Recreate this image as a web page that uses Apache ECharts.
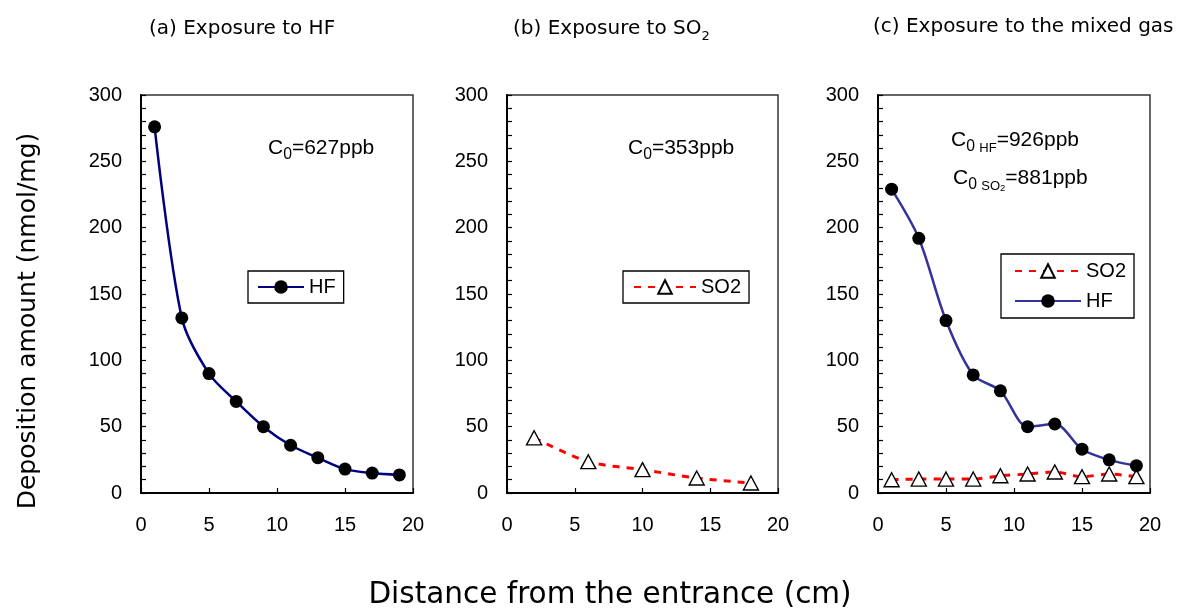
<!DOCTYPE html>
<html>
<head>
<meta charset="utf-8">
<script src="https://cdn.jsdelivr.net/npm/echarts@6/dist/echarts.min.js"></script>
<style>
html,body{margin:0;padding:0;background:#fff;}
#chart{width:1178px;height:608px;}
</style>
</head>
<body>
<div id="chart"></div>
<script>
// ---- data ----
const xA = [1, 3, 5, 7, 9, 11, 13, 15, 17, 19];
const hfA = [276, 132, 90, 69, 50, 36, 26.6, 18, 15, 13.6];
const xB = [2, 6, 10, 14, 18];
const so2B = [41.6, 23.6, 17.6, 11.3, 7.5];
const xC = [1, 3, 5, 7, 9, 11, 13, 15, 17, 19];
const hfC = [229, 192, 130, 89, 77, 50, 52, 33, 25, 20.6];
const so2C = [10, 10.5, 10.5, 10.5, 13, 14.3, 15.8, 12.3, 14.3, 12.3];
const xTicks = [0, 5, 10, 15, 20];
const yTicks = [0, 50, 100, 150, 200, 250, 300];

const chart = echarts.init(document.getElementById('chart'));
const numFont = 'Liberation Sans';
const txtFont = 'DejaVu Sans';

const grids = [
  {left: 141, top: 95, width: 272, height: 398},
  {left: 507, top: 95, width: 271, height: 398},
  {left: 878, top: 95, width: 272, height: 398}
].map(g => Object.assign(g, {show: true, borderColor: '#333', borderWidth: 1.5, backgroundColor: 'transparent'}));

function xAxisFor(i) {
  return {
    type: 'value', gridIndex: i, min: xTicks[0], max: xTicks[xTicks.length - 1], interval: xTicks[1] - xTicks[0],
    axisLine: {show: true, lineStyle: {color: '#000', width: 2}},
    axisTick: {show: true, inside: true, length: 5, lineStyle: {color: '#000', width: 1.2}},
    axisLabel: {show: true, margin: 22, color: '#000', fontFamily: numFont, fontSize: 20},
    splitLine: {show: false}
  };
}
function yAxisFor(i) {
  return {
    type: 'value', gridIndex: i, min: yTicks[0], max: yTicks[yTicks.length - 1], interval: 10,
    axisLine: {show: true, lineStyle: {color: '#000', width: 2}},
    axisTick: {show: true, inside: true, length: 5, lineStyle: {color: '#000', width: 1.2}},
    axisLabel: {
      show: true, margin: 19, color: '#000', fontFamily: numFont, fontSize: 20,
      formatter: v => (yTicks.indexOf(v) >= 0 ? String(v) : '')
    },
    splitLine: {show: false}
  };
}
const pairs = (xs, ys) => xs.map((x, k) => [x, ys[k]]);

const hfStyle = (color) => ({
  type: 'line', smooth: 0.3, symbol: 'circle', symbolSize: 13,
  itemStyle: {color: '#000', borderWidth: 0},
  lineStyle: {color: color, width: 2.5, type: 'solid'},
  z: 3
});
const so2Style = () => ({
  type: 'line', smooth: 0.3, symbol: 'triangle', symbolSize: [15, 14],
  itemStyle: {color: '#fff', borderColor: '#000', borderWidth: 1.4},
  lineStyle: {color: '#ff0000', width: 3, type: [7, 7]},
  z: 2
});

const series = [
  Object.assign(hfStyle('#000080'), {name: 'HF (a)', xAxisIndex: 0, yAxisIndex: 0, data: pairs(xA, hfA)}),
  Object.assign(so2Style(), {name: 'SO2 (b)', xAxisIndex: 1, yAxisIndex: 1, data: pairs(xB, so2B)}),
  Object.assign(so2Style(), {name: 'SO2 (c)', xAxisIndex: 2, yAxisIndex: 2, data: pairs(xC, so2C)}),
  Object.assign(hfStyle('#333399'), {name: 'HF (c)', xAxisIndex: 2, yAxisIndex: 2, data: pairs(xC, hfC)})
];

const legendBase = {
  orient: 'vertical', selectedMode: false,
  borderColor: '#000', borderWidth: 1.3, backgroundColor: '#fff',
  itemHeight: 17, itemGap: 10,
  textStyle: {color: '#000', fontFamily: numFont, fontSize: 20},
  formatter: n => n.split(' ')[0]
};
const legends = [
  Object.assign({}, legendBase, {data: ['HF (a)'], left: 248, top: 271, padding: [6, 8, 6, 9], itemWidth: 46}),
  Object.assign({}, legendBase, {data: ['SO2 (b)'], left: 623, top: 271, padding: [6, 8, 6, 10], itemWidth: 62}),
  Object.assign({}, legendBase, {data: ['SO2 (c)', 'HF (c)'], left: 1001, top: 254, padding: [7, 8, 7, 13], itemWidth: 66})
];

const bigRich = (size) => ({
  m: {fontFamily: numFont, fontSize: size, color: '#000', lineHeight: size + 4, verticalAlign: 'middle'},
  s: {fontFamily: numFont, fontSize: size * 0.75, color: '#000', lineHeight: size + 8, verticalAlign: 'bottom'},
  t: {fontFamily: numFont, fontSize: size * 0.62, color: '#000', lineHeight: size + 8, verticalAlign: 'bottom'},
  u: {fontFamily: numFont, fontSize: size * 0.45, color: '#000', lineHeight: size + 8, verticalAlign: 'bottom'}
});
const titleRich = {
  m: {fontFamily: txtFont, fontSize: 20, color: '#000', lineHeight: 23},
  s: {fontFamily: txtFont, fontSize: 13, color: '#000', lineHeight: 28, verticalAlign: 'bottom'}
};

const graphic = [
  {type: 'text', left: 149, top: 19, style: {text: '{m|(a) Exposure to HF}', rich: titleRich}},
  {type: 'text', left: 513, top: 19, style: {text: '{m|(b) Exposure to SO}{s|2}', rich: titleRich}},
  {type: 'text', left: 873, top: 17, style: {text: '{m|(c) Exposure to the mixed gas}', rich: titleRich}},
  {type: 'text', left: 268, top: 138, style: {text: '{m|C}{s|0}{m|=627ppb}', rich: bigRich(21)}},
  {type: 'text', left: 628, top: 138, style: {text: '{m|C}{s|0}{m|=353ppb}', rich: bigRich(21)}},
  {type: 'text', left: 951, top: 130, style: {text: '{m|C}{s|0 }{t|HF}{m|=926ppb}', rich: bigRich(21)}},
  {type: 'text', left: 953, top: 168, style: {text: '{m|C}{s|0 }{t|SO}{u|2}{m|=881ppb}', rich: bigRich(21)}},
  {type: 'text', x: 28, y: 321, rotation: Math.PI / 2,
    style: {text: 'Deposition amount (nmol/mg)', fontFamily: txtFont, fontSize: 25, fill: '#000', align: 'center', verticalAlign: 'middle'}},
  {type: 'text', x: 610, y: 595,
    style: {text: 'Distance from the entrance (cm)', fontFamily: txtFont, fontSize: 29.5, fill: '#000', align: 'center', verticalAlign: 'middle'}}
];

chart.setOption({
  animation: false,
  backgroundColor: '#fff',
  grid: grids,
  xAxis: [0, 1, 2].map(xAxisFor),
  yAxis: [0, 1, 2].map(yAxisFor),
  legend: legends,
  series: series,
  graphic: graphic
});
</script>
</body>
</html>
